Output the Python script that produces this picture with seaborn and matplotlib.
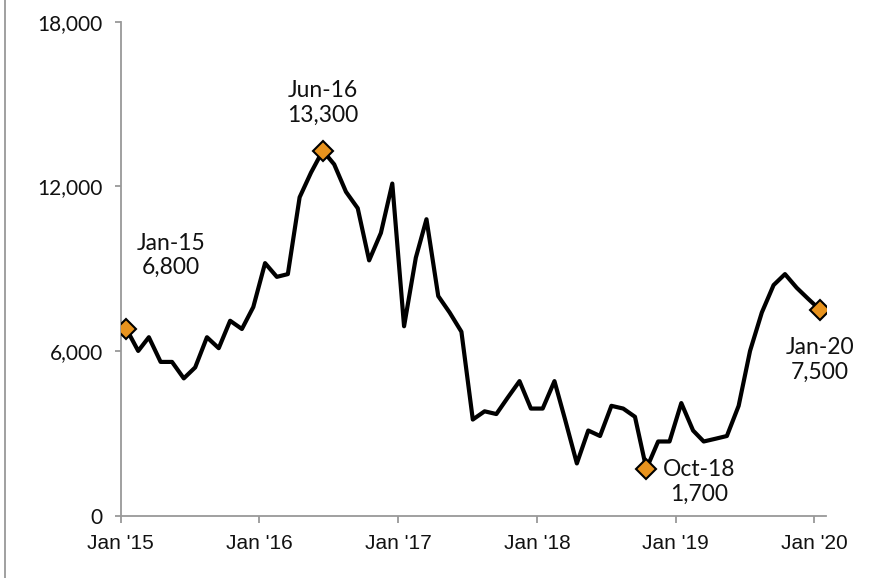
import matplotlib
matplotlib.use("Agg")
import matplotlib.pyplot as plt
from matplotlib.lines import Line2D
from matplotlib.ticker import FuncFormatter
import pandas as pd
import seaborn as sns

# Monthly series, Jan 2015 - Jan 2020
start_month = "2015-01"
values = [
    6800, 6000, 6500, 5600, 5600, 5000, 5400, 6500, 6100, 7100, 6800, 7600,   # 2015
    9200, 8700, 8800, 11600, 12500, 13300, 12800, 11800, 11200, 9300, 10300, 12100,  # 2016
    6900, 9400, 10800, 8000, 7400, 6700, 3500, 3800, 3700, 4300, 4900, 3900,  # 2017
    3900, 4900, 3500, 1900, 3100, 2900, 4000, 3900, 3600, 1700, 2700, 2700,  # 2018
    4100, 3100, 2700, 2800, 2900, 4000, 6000, 7400, 8400, 8800, 8300, 7900,  # 2019
    7500,                                                                    # 2020
]
highlight_idx = [0, 17, 45, 60]
y_ticks = [0, 6000, 12000, 18000]
x_tick_years = [2015, 2016, 2017, 2018, 2019, 2020]
x_tick_labels = ["Jan '15", "Jan '16", "Jan '17", "Jan '18", "Jan '19", "Jan '20"]

months = pd.date_range(start_month, periods=len(values), freq="MS")
# plot each month at its midpoint so the January ticks mark the month boundaries
df = pd.DataFrame({"date": months + pd.Timedelta(days=15), "value": values})

sns.set_theme(style="white")
plt.rcParams["font.family"] = ["Lato", "DejaVu Sans"]

fig = plt.figure(figsize=(8.75, 5.78), dpi=100)
ax = fig.add_axes([0.138, 0.108, 0.806, 0.8545])

sns.lineplot(data=df, x="date", y="value", ax=ax, color="black", linewidth=3.0)

hl = df.iloc[highlight_idx]
ax.plot(hl["date"], hl["value"], linestyle="none", marker="D", markersize=10,
        markerfacecolor="#E8931E", markeredgecolor="black", markeredgewidth=1.5,
        zorder=5)

# point labels: (offset x, offset y) in points
label_offsets = {0: (32, 53), 17: (0, 34.5), 45: (38, -9.5), 60: (0, -36)}
for i in highlight_idx:
    d = months[i]
    v = values[i]
    dx, dy = label_offsets[i]
    ax.annotate(f"{d:%b-%y}\n{v:,}", xy=(df["date"][i], v), xytext=(dx, dy),
                textcoords="offset points", ha="center", va="center",
                fontsize=16.5, color="#111111", linespacing=1.2)

ax.set_ylim(0, 18000)
ax.set_yticks(y_ticks)
ax.yaxis.set_major_formatter(FuncFormatter(lambda v, p: f"{int(v):,}"))

ax.set_xlim(pd.Timestamp("2015-01-01"), pd.Timestamp("2020-02-01"))
ax.set_xticks([pd.Timestamp(f"{y}-01-01") for y in x_tick_years])
ax.set_xticklabels(x_tick_labels)

ax.set_xlabel("")
ax.set_ylabel("")

for side in ["top", "right"]:
    ax.spines[side].set_visible(False)
for side in ["left", "bottom"]:
    ax.spines[side].set_color("#999999")
    ax.spines[side].set_linewidth(1.3)

ax.tick_params(axis="y", which="major", direction="out", length=4, width=1.3,
               color="#999999", labelsize=15, labelcolor="#111111", pad=9, left=True)
ax.tick_params(axis="x", which="major", direction="out", length=5, width=1.3,
               color="#999999", labelcolor="#111111", pad=8, bottom=True)
for lab in ax.get_xticklabels():
    lab.set_fontfamily(["Liberation Sans Narrow", "Liberation Sans", "DejaVu Sans"])
    lab.set_fontsize(15)

# thin frame edge on the left of the figure
fig.add_artist(Line2D([5 / 875, 5 / 875], [0, 1], transform=fig.transFigure,
                      color="#999999", linewidth=1.3))

fig.savefig("out.png", dpi=100)
